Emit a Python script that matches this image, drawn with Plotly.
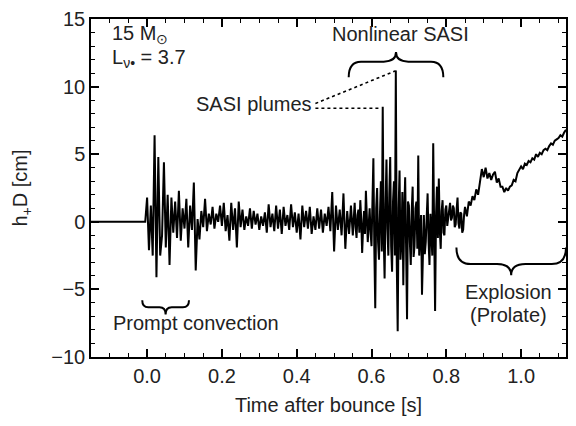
import numpy as np
import plotly.graph_objects as go

# ---------------- data ----------------
STEP_COARSE = 0.005          # s between samples (prompt, quiet, explosion)
STEP_FINE = 0.0025           # s between samples (SASI phase)

pre_t = [-0.15, -0.005]      # pre-bounce, flat signal
pre_h = [0.0, 0.0]

# 0.000 - 0.245 s : prompt convection
T_PROMPT = 0.0
h_prompt = [1.8, -2.1, 1.2, -2.5, 6.4, -4.1, 4.8, -2.5, -1.0, 4.4,
            -1.9, 2.0, -3.2, 1.8, -0.8, 1.5, -1.2, 2.3, -1.4, 1.0,
            -0.5, 1.7, -1.9, 1.2, -0.6, 2.9, -3.6, 0.2, -1.3, 0.8,
            -0.4, 1.7, -0.7, 0.6, -0.2, 1.1, -0.5, 0.6, 0.0, 1.2,
            -0.3, 1.4, -0.7, 0.5, -1.4, 1.4, -0.6, 1.0, -1.9, 1.5]
# 0.250 - 0.545 s : quiet phase
T_QUIET = 0.25
h_quiet = [-0.4, 0.9, -0.6, 0.4, -0.3, 1.0, -0.5, 0.8, -0.2, 0.6,
           -0.6, 0.4, -0.3, 0.7, -0.8, 1.3, -0.4, 0.6, -0.7, 1.2,
           -0.5, 0.9, -0.9, 1.1, -0.3, 0.5, -0.6, 1.3, -0.4, 0.7,
           -0.8, 0.6, -1.3, 1.2, -0.4, 0.8, -0.5, 1.1, -0.9, 0.4,
           -0.6, 1.0, -0.5, 0.9, -0.8, 0.6, -0.3, 1.1, -0.7, 2.2,
           -2.2, 1.2, -0.6, 0.9, -1.0, 2.1, -2.0, 0.8, -0.9, 1.2]
# 0.550 - 0.8475 s : nonlinear SASI (finer sampling)
T_SASI = 0.55
h_sasi = [-1.0, 0.6, 1.4, -0.4, -1.2, 0.5, 0.9, -0.8, 1.6, 0.2,
          -2.3, -0.5, 0.8, -0.9, 2.3, 0.4, -1.5, -0.2, 1.0, -0.8,
          -1.8, 1.5, 4.7, -2.0, -6.4, 1.0, 2.5, -1.5, -2.8, 0.5,
          3.0, -2.2, 8.5, -1.0, -4.2, 1.2, 4.6, -0.5, -2.5, 2.0,
          4.8, -1.8, -3.7, 1.5, 3.0, -2.5, 11.2, -3.0, -8.1, 1.0,
          3.8, -2.8, -1.5, 2.2, -4.7, 0.8, 3.3, -2.0, -7.2, 1.5,
          1.2, -1.5, -3.2, 0.8, 2.6, -2.6, -1.8, 1.0, 1.5, -2.0,
          4.9, -2.5, -1.2, 0.5, -5.4, -1.0, 0.5, -2.4, -1.5, 0.3,
          2.1, -1.4, -3.2, 0.6, -0.8, -2.5, 5.8, -1.0, -6.6, 0.5,
          2.6, -1.2, 3.2, -0.6, -2.0, 0.8, 1.6, -0.8, -1.0, 0.9,
          1.2, -0.3, 0.4, 1.1, 1.4, 0.1, 0.3, 1.2, 1.0, -0.4,
          -0.2, 0.9, 1.8, -0.1, -0.5, 0.7, 0.6, -0.8, -0.6, 0.5]
# 0.850 - 1.120 s : explosion
T_EXPL = 0.85
h_explosion = [1.1, 0.4, 1.5, 1.2, 1.9, 1.6, 2.4, 2.0, 3.0, 3.9,
               3.3, 4.0, 3.2, 3.6, 3.1, 3.5, 3.7, 2.9, 3.2, 2.6,
               2.6, 2.2, 2.5, 2.3, 2.6, 2.7, 3.1, 3.0, 3.6, 3.9,
               4.1, 3.9, 4.3, 4.2, 4.5, 4.4, 4.7, 4.6, 5.0, 4.8,
               5.1, 5.0, 5.3, 5.4, 5.3, 5.6, 5.8, 5.7, 6.0, 6.1,
               6.2, 6.4, 6.3, 6.6, 6.8]

x_ticks = [0.0, 0.2, 0.4, 0.6, 0.8, 1.0]
y_ticks = [-10, -5, 0, 5, 10, 15]

# --------------------------------------------------------------
def times(t0, step, n):
    return list(np.round(t0 + step * np.arange(n), 5))

t_post = (times(T_PROMPT, STEP_COARSE, len(h_prompt)) +
          times(T_QUIET, STEP_COARSE, len(h_quiet)) +
          times(T_SASI, STEP_FINE, len(h_sasi)) +
          times(T_EXPL, STEP_COARSE, len(h_explosion)))
h_post = h_prompt + h_quiet + h_sasi + h_explosion
t_all = pre_t + t_post
h_all = pre_h + h_post

FONT = "Liberation Sans"
TXT = "#222222"

fig = go.Figure()
fig.add_trace(go.Scatter(x=t_all, y=h_all, mode="lines",
                         line=dict(color="black", width=2),
                         showlegend=False, hoverinfo="skip"))

def brace(x0, x1, y_end, y_tip, frac=0.6):
    xm = 0.5 * (x0 + x1)
    ym = y_end + (y_tip - y_end) * frac
    q = (x1 - x0) * 0.13
    return (f"M {x0},{y_end} Q {x0},{ym} {x0+q},{ym} L {xm-q},{ym} "
            f"Q {xm},{ym} {xm},{y_tip} Q {xm},{ym} {xm+q},{ym} "
            f"L {x1-q},{ym} Q {x1},{ym} {x1},{y_end}")

shapes = []
# braces: (start, end, end level, tip level, body fraction)
braces = [(0.539, 0.792, 10.7, 12.55, 0.62),
          (-0.013, 0.112, -5.8, -6.85, 0.5),
          (0.827, 1.120, -1.9, -3.95, 0.6)]
for b in braces:
    shapes.append(dict(type="path", xref="x", yref="y", path=brace(*b),
                       line=dict(color="black", width=2)))

# dotted pointers to the SASI plume spikes
i1 = int(np.argmax(h_post))
h_sorted = sorted(h_post, reverse=True)
i2 = h_post.index(h_sorted[1])
shapes.append(dict(type="line", xref="x", yref="y", x0=0.45, y0=8.75,
                   x1=t_post[i1] - 0.002, y1=h_post[i1] - 0.05,
                   line=dict(color="black", width=1.6, dash="dot")))
shapes.append(dict(type="line", xref="x", yref="y", x0=0.45, y0=h_post[i2] - 0.1,
                   x1=t_post[i2] - 0.004, y1=h_post[i2] - 0.1,
                   line=dict(color="black", width=1.6, dash="dot")))

def ann(text, x, y, xanchor="center"):
    return dict(text=text, x=x, y=y, xref="x", yref="y", showarrow=False,
                xanchor=xanchor, yanchor="middle",
                font=dict(family=FONT, size=20, color=TXT))

annotations = [
    ann("15 M<sub>⊙</sub>", -0.098, 13.85, "left"),
    ann("L<sub>ν•</sub> = 3.7", -0.098, 12.1, "left"),
    ann("Nonlinear SASI", 0.677, 13.9),
    ann("SASI plumes", 0.447, 8.7, "right"),
    ann("Prompt convection", 0.13, -7.5),
    ann("Explosion", 0.966, -5.2),
    ann("(Prolate)", 0.966, -6.9),
]

axis_common = dict(showline=True, linecolor="black", linewidth=1.5, mirror="ticks",
                   ticks="inside", ticklen=8, tickwidth=1.5, tickcolor="black",
                   showgrid=False, zeroline=False,
                   tickfont=dict(family=FONT, size=20, color=TXT))

fig.update_layout(
    width=576, height=426,
    margin=dict(l=91, r=8, t=15, b=69),
    paper_bgcolor="white", plot_bgcolor="white",
    shapes=shapes, annotations=annotations,
    xaxis=dict(range=[-0.15, 1.12], tickvals=x_ticks, tickformat=".1f",
               minor=dict(dtick=0.05, tick0=0, ticks="inside", ticklen=4,
                          tickwidth=1.2, tickcolor="black"),
               title=dict(text="Time after bounce [s]", standoff=12,
                          font=dict(family=FONT, size=20, color=TXT)),
               **axis_common),
    yaxis=dict(range=[-10, 15], tickvals=y_ticks,
               minor=dict(dtick=1, tick0=0, ticks="inside", ticklen=4,
                          tickwidth=1.2, tickcolor="black"),
               title=dict(text="h<sub>+</sub>D [cm]", standoff=18,
                          font=dict(family=FONT, size=20, color=TXT)),
               **axis_common),
)

fig.write_html("out.html")
